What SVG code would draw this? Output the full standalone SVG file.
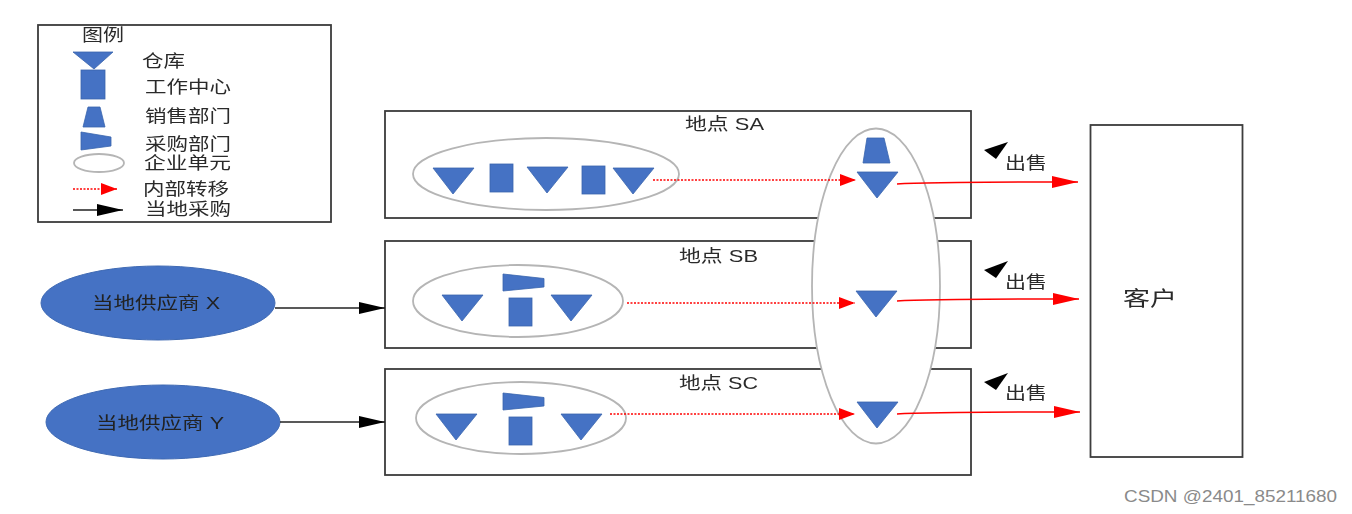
<svg xmlns="http://www.w3.org/2000/svg" width="1352" height="514" viewBox="0 0 1352 514">
<defs>
<filter id="soft" filterUnits="userSpaceOnUse" x="0" y="0" width="1352" height="514"><feGaussianBlur stdDeviation="0.4"/></filter>
<marker id="ar" markerUnits="userSpaceOnUse" markerWidth="26" markerHeight="12" refX="26" refY="6" orient="auto"><path d="M0 0L26 6L0 12Z" fill="#f00"/></marker>
<marker id="ad" markerUnits="userSpaceOnUse" markerWidth="16" markerHeight="12" refX="16" refY="6" orient="auto"><path d="M0 0L16 6L0 12Z" fill="#f00"/></marker>
<marker id="ak" markerUnits="userSpaceOnUse" markerWidth="26" markerHeight="12" refX="26" refY="6" orient="auto"><path d="M0 0L26 6L0 12Z" fill="#000"/></marker>
<path id="wh" d="M0 0L41 0L20 26Z"/>
<path id="pu" d="M0 0L41 4.500L41 13L0 17Z"/>
</defs>
<style>
text{font-family:"Liberation Sans","Noto Sans CJK SC",sans-serif;font-size:17px;fill:#2a2a2a}
.box{fill:#fff;stroke:#3c3c3c;stroke-width:1.800}
.eu{fill:#fff;stroke:#b5b5b5;stroke-width:1.800}
.bl{fill:#4472c4;stroke:#3a64ad;stroke-width:.8}
.sup{fill:#4472c4;stroke:#3f69b3}
.sup-t{fill:#222}
.d{fill:none;stroke:#f00;stroke-width:1.300;stroke-dasharray:2 1.500;marker-end:url(#ad)}
.s{fill:none;stroke:#f00;stroke-width:1.500;marker-end:url(#ar)}
.k{fill:none;stroke:#222;stroke-width:1.300;marker-end:url(#ak)}
</style>
<rect width="1352" height="514" fill="#fff"/>
<g filter="url(#soft)">
<g id="legend">
<rect class="box" x="38" y="25" width="293" height="197"/>
<text x="82" y="41" textLength="42" lengthAdjust="spacingAndGlyphs">图例</text>
<path class="bl" d="M73 52L113 52L94 69Z"/><text x="142" y="67" textLength="43" lengthAdjust="spacingAndGlyphs">仓库</text>
<rect class="bl" x="81" y="70" width="24" height="29"/><text x="145" y="93" textLength="86" lengthAdjust="spacingAndGlyphs">工作中心</text>
<path class="bl" d="M88 107L100 107L105 127L83 127Z"/><text x="145" y="122" textLength="86" lengthAdjust="spacingAndGlyphs">销售部门</text>
<path class="bl" d="M81 132L111 137L111 146L81 150Z"/><text x="145" y="150" textLength="86" lengthAdjust="spacingAndGlyphs">采购部门</text>
<ellipse class="eu" cx="99" cy="163" rx="25" ry="9"/><text x="144" y="169" textLength="87" lengthAdjust="spacingAndGlyphs">企业单元</text>
<path class="d" d="M73 189L117 189"/><text x="143" y="195" textLength="86" lengthAdjust="spacingAndGlyphs">内部转移</text>
<path class="k" d="M73 210L123 210"/><text x="145" y="215" textLength="86" lengthAdjust="spacingAndGlyphs">当地采购</text>
</g>
<g id="site-sa"><rect class="box" x="385" y="111" width="586" height="107"/><text x="685" y="130" textLength="79" lengthAdjust="spacingAndGlyphs">地点 SA</text></g>
<g id="site-sb"><rect class="box" x="385" y="241" width="586" height="107"/><text x="679" y="262" textLength="79" lengthAdjust="spacingAndGlyphs">地点 SB</text></g>
<g id="site-sc"><rect class="box" x="385" y="369" width="586" height="106"/><text x="679" y="389" textLength="79" lengthAdjust="spacingAndGlyphs">地点 SC</text></g>
<g id="unit-a">
<ellipse class="eu" cx="546" cy="174" rx="133" ry="36"/>
<use class="bl" href="#wh" x="433" y="168"/>
<rect class="bl" x="490" y="164" width="23" height="28"/>
<use class="bl" href="#wh" x="527" y="167"/>
<rect class="bl" x="582" y="166" width="23" height="28"/>
<use class="bl" href="#wh" x="613" y="168"/>
</g>
<g id="unit-b">
<ellipse class="eu" cx="518" cy="301" rx="105" ry="36"/>
<use class="bl" href="#wh" x="442" y="295"/>
<use class="bl" href="#pu" x="503" y="274"/>
<rect class="bl" x="509" y="298" width="23" height="28"/>
<use class="bl" href="#wh" x="551" y="295"/>
</g>
<g id="unit-c">
<ellipse class="eu" cx="521" cy="418" rx="105" ry="36"/>
<use class="bl" href="#wh" x="436" y="414"/>
<use class="bl" href="#pu" x="503" y="393"/>
<rect class="bl" x="509" y="417" width="23" height="28"/>
<use class="bl" href="#wh" x="561" y="414"/>
</g>
<g id="enterprise-unit">
<ellipse class="eu" cx="876" cy="286" rx="64" ry="157.500"/>
<path class="bl" d="M867 138L884 138L890 163L863 163Z"/>
<use class="bl" href="#wh" x="857" y="172"/>
<use class="bl" href="#wh" x="856" y="291"/>
<use class="bl" href="#wh" x="857" y="402"/>
</g>
<g id="customer"><rect class="box" x="1090.500" y="125" width="152" height="332"/><text x="1123" y="306" style="font-size:20px" textLength="54" lengthAdjust="spacingAndGlyphs">客户</text></g>
<g id="supplier-x"><ellipse class="sup" cx="158" cy="303" rx="117" ry="37"/><text class="sup-t" x="92" y="309" textLength="128" lengthAdjust="spacingAndGlyphs">当地供应商 X</text></g>
<g id="supplier-y"><ellipse class="sup" cx="163" cy="422" rx="117" ry="37"/><text class="sup-t" x="96" y="429" textLength="128" lengthAdjust="spacingAndGlyphs">当地供应商 Y</text></g>
<g id="connectors">
<path class="k" d="M275 308L385 308"/>
<path class="k" d="M280 422L385 422"/>
<path class="d" d="M653 180L856 180"/>
<path class="d" d="M627 303L855 303"/>
<path class="d" d="M610 414L855 414"/>
<path class="s" d="M897 184Q930 182 1078 182"/>
<path class="s" d="M897 301Q930 299 1079 299"/>
<path class="s" d="M897 414Q930 412 1080 412"/>
</g>
<g id="sale-labels">
<path d="M984 150L1008 142L996 159Z" fill="#000"/><text x="1005" y="169" textLength="42" lengthAdjust="spacingAndGlyphs">出售</text>
<path d="M984 270L1008 261L996 278Z" fill="#000"/><text x="1005" y="288" textLength="42" lengthAdjust="spacingAndGlyphs">出售</text>
<path d="M984 382L1008 373L996 390Z" fill="#000"/><text x="1005" y="399" textLength="42" lengthAdjust="spacingAndGlyphs">出售</text>
</g>
</g>
<text x="1124" y="502" textLength="213" lengthAdjust="spacingAndGlyphs" style="font-size:17px;fill:#8a8a8a">CSDN @2401_85211680</text>
</svg>
